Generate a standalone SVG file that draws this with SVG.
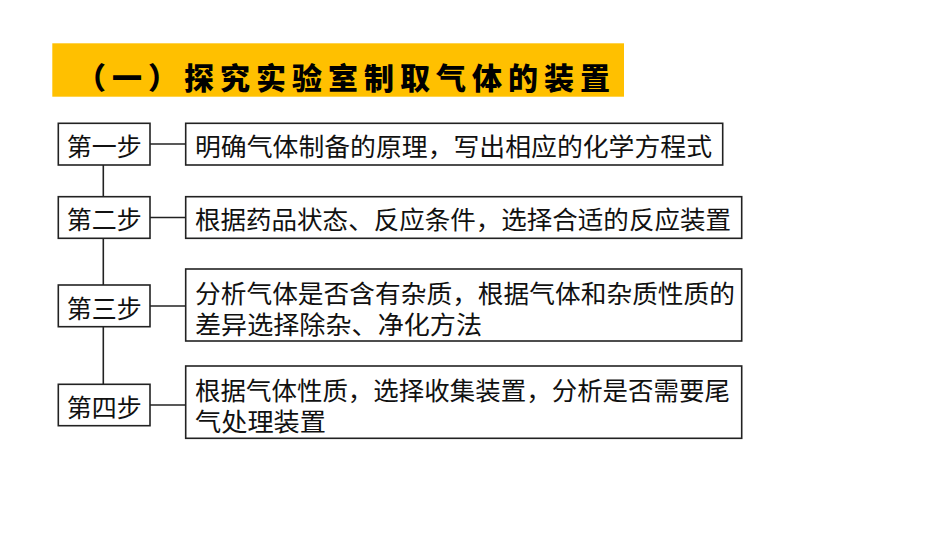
<svg xmlns="http://www.w3.org/2000/svg" width="950" height="535" viewBox="0 0 950 535">
<style>
.box{fill:#fff;stroke:#222;stroke-width:1.6}
.ln{stroke:#222;stroke-width:1.6;fill:none}
.t{font-family:"Noto Sans CJK SC","Noto Sans CJK JP",sans-serif;font-size:25px;fill:#111;dominant-baseline:central}
.title{font-family:"Noto Sans CJK SC",sans-serif;font-size:30px;font-weight:900;fill:#000;dominant-baseline:central}
</style>
<rect width="950" height="535" fill="#fff"/>
<g id="title">
<rect x="52.3" y="43.3" width="571.7" height="53.4" fill="#FFC000"/>
<text class="title" x="76" y="76" textLength="534" lengthAdjust="spacing">（一）探究实验室制取气体的装置</text>
</g>
<g id="connectors">
<line class="ln" x1="103.3" y1="165" x2="103.3" y2="196.7"/>
<line class="ln" x1="103.3" y1="238.3" x2="103.3" y2="285"/>
<line class="ln" x1="103.3" y1="326.7" x2="103.3" y2="384.3"/>
<line class="ln" x1="150" y1="144" x2="185.7" y2="144"/>
<line class="ln" x1="150" y1="217.5" x2="185.7" y2="217.5"/>
<line class="ln" x1="150" y1="306" x2="185.7" y2="306"/>
<line class="ln" x1="150" y1="405" x2="185.7" y2="405"/>
</g>
<g id="step1">
<rect class="box" x="58.3" y="123.3" width="91.7" height="41.7"/>
<text class="t" x="104.2" y="144.5" text-anchor="middle">第一步</text>
</g>
<g id="step2">
<rect class="box" x="58.3" y="196.7" width="91.7" height="41.6"/>
<text class="t" x="104.2" y="218" text-anchor="middle">第二步</text>
</g>
<g id="step3">
<rect class="box" x="58.3" y="285" width="91.7" height="41.7"/>
<text class="t" x="104.2" y="306.5" text-anchor="middle">第三步</text>
</g>
<g id="step4">
<rect class="box" x="58.3" y="384.3" width="91.7" height="41.4"/>
<text class="t" x="104.2" y="405.5" text-anchor="middle">第四步</text>
</g>
<g id="desc1">
<rect class="box" x="185.7" y="123.3" width="537" height="41.7"/>
<text class="t" x="195" y="144.5" textLength="517" lengthAdjust="spacingAndGlyphs">明确气体制备的原理，写出相应的化学方程式</text>
</g>
<g id="desc2">
<rect class="box" x="185.7" y="196.7" width="556" height="41.6"/>
<text class="t" x="195" y="218" textLength="536" lengthAdjust="spacingAndGlyphs">根据药品状态、反应条件，选择合适的反应装置</text>
</g>
<g id="desc3">
<rect class="box" x="185.7" y="269" width="556" height="72"/>
<text class="t" x="195" y="291.5" textLength="540" lengthAdjust="spacingAndGlyphs">分析气体是否含有杂质，根据气体和杂质性质的</text>
<text class="t" x="195" y="323" textLength="287" lengthAdjust="spacingAndGlyphs">差异选择除杂、净化方法</text>
</g>
<g id="desc4">
<rect class="box" x="185.7" y="366" width="556" height="72.3"/>
<text class="t" x="195" y="388.5" textLength="535" lengthAdjust="spacingAndGlyphs">根据气体性质，选择收集装置，分析是否需要尾</text>
<text class="t" x="195" y="420" textLength="131" lengthAdjust="spacingAndGlyphs">气处理装置</text>
</g>
</svg>
